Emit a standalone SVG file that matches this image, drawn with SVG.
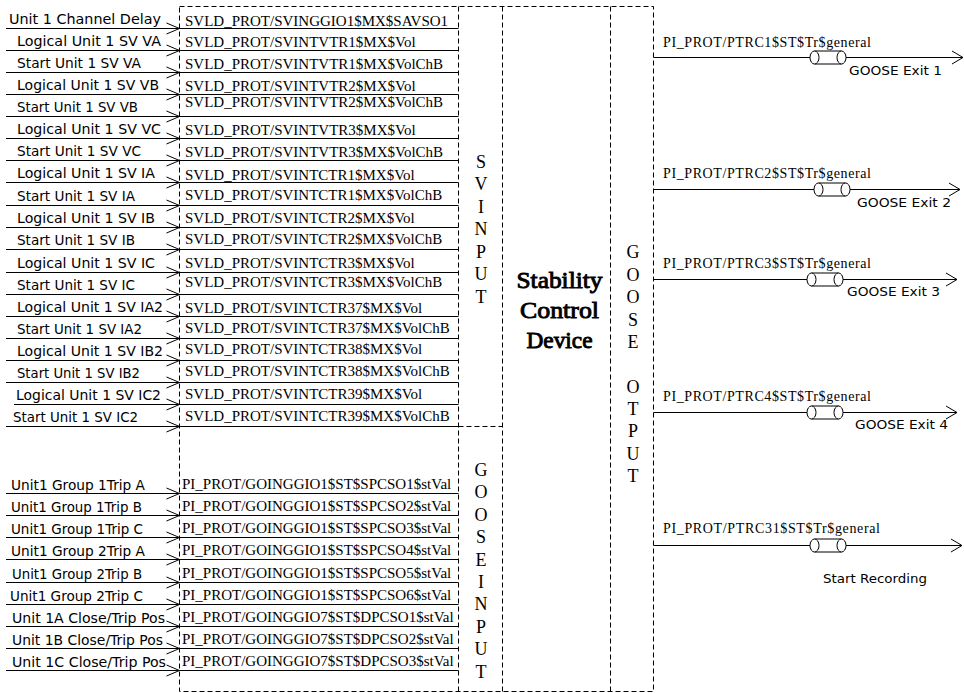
<svg xmlns="http://www.w3.org/2000/svg" xmlns:xlink="http://www.w3.org/1999/xlink" width="964" height="693" viewBox="0 0 964 693">
<style>
.dash{fill:none;stroke:#000;stroke-width:1;stroke-dasharray:5,3}
.ln{fill:none;stroke:#000;stroke-width:1}
.lab{font-family:"DejaVu Sans",sans-serif;font-size:14px;fill:#000}
.sig{font-family:"Liberation Serif",serif;font-size:15px;fill:#000}
.out{font-family:"Liberation Serif",serif;font-size:14px;fill:#000}
.ext{font-family:"DejaVu Sans",sans-serif;font-size:12.5px;fill:#000}
.vert{font-family:"Liberation Serif",serif;font-size:18px;fill:#000;text-anchor:middle}
.dev{font-family:"Liberation Serif","Times New Roman",serif;font-size:24px;fill:#000;stroke:#000;stroke-width:0.9;text-anchor:middle}
</style>
<defs>
<marker id="ain" markerUnits="userSpaceOnUse" markerWidth="14" markerHeight="12" refX="13" refY="5.5" orient="auto" overflow="visible"><path d="M0,0 L13,5.5 L0,11" fill="none" stroke="#000" stroke-width="1"/></marker>
<marker id="aout" markerUnits="userSpaceOnUse" markerWidth="12" markerHeight="14" refX="11" refY="6.5" orient="auto" overflow="visible"><path d="M0,0 L11,6.5 L0,13" fill="none" stroke="#000" stroke-width="1"/></marker>
<g id="cyl"><path d="M4.5,-6.5 H31.5 M4.5,6.5 H31.5" fill="none" stroke="#000" stroke-width="1"/><ellipse cx="4.5" cy="0" rx="4.5" ry="6.5" fill="#fff" stroke="#000" stroke-width="1"/><ellipse cx="31.5" cy="0" rx="4.5" ry="6.5" fill="#fff" stroke="#000" stroke-width="1"/></g>
</defs>
<rect width="964" height="693" fill="#fff"/>

<g id="frame">
<rect class="dash" x="179.5" y="6.5" width="474" height="685"/>
<line class="dash" x1="458.5" y1="6.5" x2="458.5" y2="691.5"/>
<line class="dash" x1="502.5" y1="6.5" x2="502.5" y2="691.5"/>
<line class="dash" x1="610.5" y1="6.5" x2="610.5" y2="691.5"/>
<line class="dash" x1="458.5" y1="426.5" x2="502.5" y2="426.5"/>
</g>

<g id="sv-input">
<text class="vert" x="481" y="167.5">S</text>
<text class="vert" x="481" y="190">V</text>
<text class="vert" x="481" y="212.5">I</text>
<text class="vert" x="481" y="235">N</text>
<text class="vert" x="481" y="257.5">P</text>
<text class="vert" x="481" y="280">U</text>
<text class="vert" x="481" y="302.5">T</text>
</g>

<g id="goose-input">
<text class="vert" x="481" y="476">G</text>
<text class="vert" x="481" y="498">O</text>
<text class="vert" x="481" y="520.5">O</text>
<text class="vert" x="481" y="543">S</text>
<text class="vert" x="481" y="565.5">E</text>
<text class="vert" x="481" y="588">I</text>
<text class="vert" x="481" y="610">N</text>
<text class="vert" x="481" y="632.5">P</text>
<text class="vert" x="481" y="655">U</text>
<text class="vert" x="481" y="677.5">T</text>
</g>

<g id="device">
<text class="dev" x="559.5" y="288.3" textLength="86" lengthAdjust="spacingAndGlyphs">Stability</text>
<text class="dev" x="559.5" y="318.3" textLength="79" lengthAdjust="spacingAndGlyphs">Control</text>
<text class="dev" x="559.5" y="348.3" textLength="66" lengthAdjust="spacingAndGlyphs">Device</text>
</g>

<g id="goose-output">
<text class="vert" x="633" y="258">G</text>
<text class="vert" x="633" y="280.5">O</text>
<text class="vert" x="633" y="303">O</text>
<text class="vert" x="633" y="325.5">S</text>
<text class="vert" x="633" y="348">E</text>
<text class="vert" x="633" y="392.5">O</text>
<text class="vert" x="633" y="415">T</text>
<text class="vert" x="633" y="437">P</text>
<text class="vert" x="633" y="459.5">U</text>
<text class="vert" x="633" y="482">T</text>
</g>

<g id="connectors">
<g id="sv-in-arrows">
<path class="ln" marker-end="url(#ain)" d="M6,28.5H179.5"/>
<path class="ln" marker-end="url(#ain)" d="M6,50.5H179.5"/>
<path class="ln" marker-end="url(#ain)" d="M6,72.5H179.5"/>
<path class="ln" marker-end="url(#ain)" d="M6,94.5H179.5"/>
<path class="ln" marker-end="url(#ain)" d="M6,116.5H179.5"/>
<path class="ln" marker-end="url(#ain)" d="M6,138.5H179.5"/>
<path class="ln" marker-end="url(#ain)" d="M6,160.5H179.5"/>
<path class="ln" marker-end="url(#ain)" d="M6,182.5H179.5"/>
<path class="ln" marker-end="url(#ain)" d="M6,205.5H179.5"/>
<path class="ln" marker-end="url(#ain)" d="M6,227.5H179.5"/>
<path class="ln" marker-end="url(#ain)" d="M6,249.5H179.5"/>
<path class="ln" marker-end="url(#ain)" d="M6,272.5H179.5"/>
<path class="ln" marker-end="url(#ain)" d="M6,294.5H179.5"/>
<path class="ln" marker-end="url(#ain)" d="M6,316.5H179.5"/>
<path class="ln" marker-end="url(#ain)" d="M6,338.5H179.5"/>
<path class="ln" marker-end="url(#ain)" d="M6,360.5H179.5"/>
<path class="ln" marker-end="url(#ain)" d="M6,382.5H179.5"/>
<path class="ln" marker-end="url(#ain)" d="M14,404.5H179.5"/>
<path class="ln" marker-end="url(#ain)" d="M6,426.5H179.5"/>
</g>
<path class="ln" d="M179.5,28.5H458.5M179.5,50.5H458.5M179.5,72.5H458.5M179.5,94.5H458.5M179.5,116.5H458.5M179.5,138.5H458.5M179.5,160.5H458.5M179.5,182.5H458.5M179.5,205.5H458.5M179.5,227.5H458.5M179.5,249.5H458.5M179.5,272.5H458.5M179.5,294.5H458.5M179.5,316.5H458.5M179.5,338.5H458.5M179.5,360.5H458.5M179.5,382.5H458.5M179.5,404.5H458.5M179.5,426.5H458.5"/>
<g id="goose-in-arrows">
<path class="ln" marker-end="url(#ain)" d="M6,493.5H179.5"/>
<path class="ln" marker-end="url(#ain)" d="M6,515.5H179.5"/>
<path class="ln" marker-end="url(#ain)" d="M6,537.5H179.5"/>
<path class="ln" marker-end="url(#ain)" d="M6,559.5H179.5"/>
<path class="ln" marker-end="url(#ain)" d="M6,582.5H179.5"/>
<path class="ln" marker-end="url(#ain)" d="M6,604.5H179.5"/>
<path class="ln" marker-end="url(#ain)" d="M6,626.5H179.5"/>
<path class="ln" marker-end="url(#ain)" d="M6,648.5H179.5"/>
<path class="ln" marker-end="url(#ain)" d="M6,670.5H179.5"/>
</g>
<path class="ln" d="M179.5,493.5H458.5M179.5,515.5H458.5M179.5,537.5H458.5M179.5,559.5H458.5M179.5,582.5H458.5M179.5,604.5H458.5M179.5,626.5H458.5M179.5,648.5H458.5M179.5,670.5H458.5"/>
<g id="out-arrows">
<path class="ln" d="M653.5,57.5H810"/><path class="ln" marker-end="url(#aout)" d="M846,57.5H963"/>
<use xlink:href="#cyl" x="810" y="57.5"/>
<path class="ln" d="M653.5,189.5H814"/><path class="ln" marker-end="url(#aout)" d="M850,189.5H960"/>
<use xlink:href="#cyl" x="814" y="189.5"/>
<path class="ln" d="M653.5,279.5H807"/><path class="ln" marker-end="url(#aout)" d="M843,279.5H957"/>
<use xlink:href="#cyl" x="807" y="279.5"/>
<path class="ln" d="M653.5,412.5H807"/><path class="ln" marker-end="url(#aout)" d="M843,412.5H957"/>
<use xlink:href="#cyl" x="807" y="412.5"/>
<path class="ln" d="M653.5,545.5H810"/><path class="ln" marker-end="url(#aout)" d="M846,545.5H962"/>
<use xlink:href="#cyl" x="810" y="545.5"/>
</g>
</g>

<g id="input-labels">
<text class="lab" x="9" y="24.1" textLength="152" lengthAdjust="spacingAndGlyphs">Unit 1 Channel Delay</text>
<text class="lab" x="17" y="46.1" textLength="144" lengthAdjust="spacingAndGlyphs">Logical Unit 1 SV VA</text>
<text class="lab" x="17" y="68.1" textLength="124" lengthAdjust="spacingAndGlyphs">Start Unit 1 SV VA</text>
<text class="lab" x="17" y="90.1" textLength="142" lengthAdjust="spacingAndGlyphs">Logical Unit 1 SV VB</text>
<text class="lab" x="17" y="112.1" textLength="121" lengthAdjust="spacingAndGlyphs">Start Unit 1 SV VB</text>
<text class="lab" x="17" y="134.1" textLength="144" lengthAdjust="spacingAndGlyphs">Logical Unit 1 SV VC</text>
<text class="lab" x="17" y="156.1" textLength="124" lengthAdjust="spacingAndGlyphs">Start Unit 1 SV VC</text>
<text class="lab" x="17" y="178.1" textLength="138" lengthAdjust="spacingAndGlyphs">Logical Unit 1 SV IA</text>
<text class="lab" x="17" y="201.1" textLength="118" lengthAdjust="spacingAndGlyphs">Start Unit 1 SV IA</text>
<text class="lab" x="17" y="223.1" textLength="138" lengthAdjust="spacingAndGlyphs">Logical Unit 1 SV IB</text>
<text class="lab" x="17" y="245.1" textLength="118" lengthAdjust="spacingAndGlyphs">Start Unit 1 SV IB</text>
<text class="lab" x="17" y="268.1" textLength="138" lengthAdjust="spacingAndGlyphs">Logical Unit 1 SV IC</text>
<text class="lab" x="17" y="290.1" textLength="118" lengthAdjust="spacingAndGlyphs">Start Unit 1 SV IC</text>
<text class="lab" x="17" y="312.1" textLength="146" lengthAdjust="spacingAndGlyphs">Logical Unit 1 SV IA2</text>
<text class="lab" x="17" y="334.1" textLength="125" lengthAdjust="spacingAndGlyphs">Start Unit 1 SV IA2</text>
<text class="lab" x="17" y="356.1" textLength="146" lengthAdjust="spacingAndGlyphs">Logical Unit 1 SV IB2</text>
<text class="lab" x="17" y="378.1" textLength="123" lengthAdjust="spacingAndGlyphs">Start Unit 1 SV IB2</text>
<text class="lab" x="16" y="400.1" textLength="145" lengthAdjust="spacingAndGlyphs">Logical Unit 1 SV IC2</text>
<text class="lab" x="13" y="422.1" textLength="125" lengthAdjust="spacingAndGlyphs">Start Unit 1 SV IC2</text>
<text class="lab" x="11" y="489.5" textLength="134" lengthAdjust="spacingAndGlyphs">Unit1 Group 1Trip A</text>
<text class="lab" x="11" y="511.5" textLength="131" lengthAdjust="spacingAndGlyphs">Unit1 Group 1Trip B</text>
<text class="lab" x="11" y="533.5" textLength="132" lengthAdjust="spacingAndGlyphs">Unit1 Group 1Trip C</text>
<text class="lab" x="11" y="555.5" textLength="134" lengthAdjust="spacingAndGlyphs">Unit1 Group 2Trip A</text>
<text class="lab" x="12" y="578.5" textLength="130" lengthAdjust="spacingAndGlyphs">Unit1 Group 2Trip B</text>
<text class="lab" x="10" y="600.5" textLength="133" lengthAdjust="spacingAndGlyphs">Unit1 Group 2Trip C</text>
<text class="lab" x="12" y="622.5" textLength="153" lengthAdjust="spacingAndGlyphs">Unit 1A Close/Trip Pos</text>
<text class="lab" x="12" y="644.5" textLength="151" lengthAdjust="spacingAndGlyphs">Unit 1B Close/Trip Pos</text>
<text class="lab" x="12" y="666.5" textLength="154" lengthAdjust="spacingAndGlyphs">Unit 1C Close/Trip Pos</text>
</g>

<g id="sv-signals">
<text class="sig" x="185" y="25.7">SVLD_PROT/SVINGGIO1$MX$SAVSO1</text>
<text class="sig" x="185" y="47.3">SVLD_PROT/SVINTVTR1$MX$Vol</text>
<text class="sig" x="185" y="69.3">SVLD_PROT/SVINTVTR1$MX$VolChB</text>
<text class="sig" x="185" y="90.7">SVLD_PROT/SVINTVTR2$MX$Vol</text>
<text class="sig" x="185" y="107.3">SVLD_PROT/SVINTVTR2$MX$VolChB</text>
<text class="sig" x="185" y="135">SVLD_PROT/SVINTVTR3$MX$Vol</text>
<text class="sig" x="185" y="157">SVLD_PROT/SVINTVTR3$MX$VolChB</text>
<text class="sig" x="185" y="179.5">SVLD_PROT/SVINTCTR1$MX$Vol</text>
<text class="sig" x="185" y="199.5">SVLD_PROT/SVINTCTR1$MX$VolChB</text>
<text class="sig" x="185" y="222.5">SVLD_PROT/SVINTCTR2$MX$Vol</text>
<text class="sig" x="185" y="243.5">SVLD_PROT/SVINTCTR2$MX$VolChB</text>
<text class="sig" x="185" y="268.3">SVLD_PROT/SVINTCTR3$MX$Vol</text>
<text class="sig" x="185" y="286.7">SVLD_PROT/SVINTCTR3$MX$VolChB</text>
<text class="sig" x="185" y="313.3">SVLD_PROT/SVINTCTR37$MX$Vol</text>
<text class="sig" x="185" y="332.7">SVLD_PROT/SVINTCTR37$MX$VolChB</text>
<text class="sig" x="185" y="354">SVLD_PROT/SVINTCTR38$MX$Vol</text>
<text class="sig" x="185" y="376">SVLD_PROT/SVINTCTR38$MX$VolChB</text>
<text class="sig" x="185" y="398.5">SVLD_PROT/SVINTCTR39$MX$Vol</text>
<text class="sig" x="185" y="421">SVLD_PROT/SVINTCTR39$MX$VolChB</text>
</g>

<g id="goose-signals">
<text class="sig" x="182" y="489">PI_PROT/GOINGGIO1$ST$SPCSO1$stVal</text>
<text class="sig" x="182" y="511">PI_PROT/GOINGGIO1$ST$SPCSO2$stVal</text>
<text class="sig" x="182" y="533">PI_PROT/GOINGGIO1$ST$SPCSO3$stVal</text>
<text class="sig" x="182" y="555">PI_PROT/GOINGGIO1$ST$SPCSO4$stVal</text>
<text class="sig" x="182" y="578">PI_PROT/GOINGGIO1$ST$SPCSO5$stVal</text>
<text class="sig" x="182" y="600">PI_PROT/GOINGGIO1$ST$SPCSO6$stVal</text>
<text class="sig" x="182" y="622">PI_PROT/GOINGGIO7$ST$DPCSO1$stVal</text>
<text class="sig" x="182" y="644">PI_PROT/GOINGGIO7$ST$DPCSO2$stVal</text>
<text class="sig" x="182" y="666">PI_PROT/GOINGGIO7$ST$DPCSO3$stVal</text>
</g>

<g id="output-labels">
<text class="out" x="663" y="46.7" textLength="208" lengthAdjust="spacing">PI_PROT/PTRC1$ST$Tr$general</text>
<text class="ext" x="849" y="74.5" textLength="93" lengthAdjust="spacingAndGlyphs">GOOSE Exit 1</text>
<text class="out" x="663" y="178" textLength="208" lengthAdjust="spacing">PI_PROT/PTRC2$ST$Tr$general</text>
<text class="ext" x="857" y="206.5" textLength="94" lengthAdjust="spacingAndGlyphs">GOOSE Exit 2</text>
<text class="out" x="663" y="267.5" textLength="208" lengthAdjust="spacing">PI_PROT/PTRC3$ST$Tr$general</text>
<text class="ext" x="847" y="296" textLength="93" lengthAdjust="spacingAndGlyphs">GOOSE Exit 3</text>
<text class="out" x="663" y="401" textLength="208" lengthAdjust="spacing">PI_PROT/PTRC4$ST$Tr$general</text>
<text class="ext" x="855" y="429.3" textLength="93" lengthAdjust="spacingAndGlyphs">GOOSE Exit 4</text>
<text class="out" x="663" y="532.7" textLength="217" lengthAdjust="spacing">PI_PROT/PTRC31$ST$Tr$general</text>
<text class="ext" x="823" y="583.3" textLength="104" lengthAdjust="spacingAndGlyphs">Start Recording</text>
</g>
</svg>
